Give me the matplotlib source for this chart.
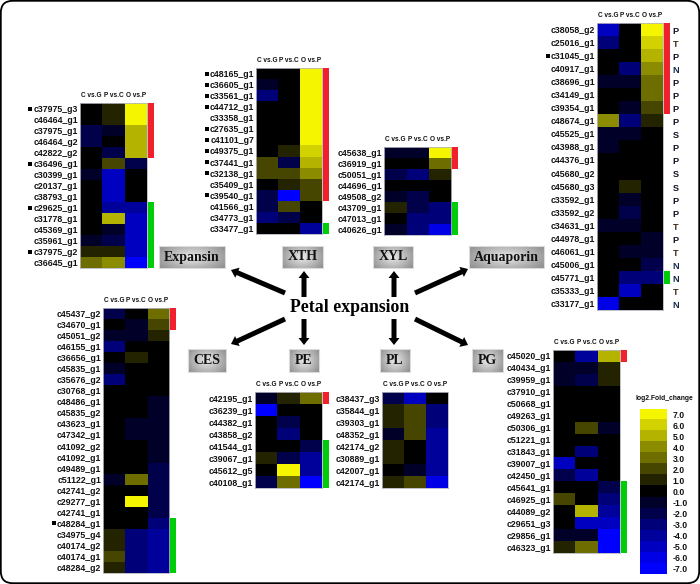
#!/usr/bin/env python3
# -*- coding: utf-8 -*-
import numpy as np
import matplotlib
matplotlib.use('Agg')
import matplotlib.pyplot as plt
from matplotlib.colors import ListedColormap
from matplotlib.patches import Rectangle, FancyBboxPatch

#%% Data
COLUMNS = ['C vs.G', 'P vs.C', 'O vs.P']

expansin_genes = ['c37975_g3', 'c46464_g1', 'c37975_g1', 'c46464_g2', 'c42822_g2', 'c36496_g1', 'c30399_g1',
                  'c20137_g1', 'c38793_g1', 'c29625_g1', 'c31778_g1', 'c45369_g1', 'c35961_g1', 'c37975_g2',
                  'c36645_g1']
expansin_vals = [[0, 1, 7], [0, 1, 7], [-2, -1, 5], [-2, 0, 5], [0, -2, 5], [0, 2, -2], [-1, -5, 0],
                 [0, -5, 0], [0, -5, 0], [0, -4, -4], [0, 5, -5], [0, -1, -5], [-1, -2, -5], [1, 1, -5],
                 [3, 4, -7]]

xth_genes = ['c48165_g1', 'c36605_g1', 'c33561_g1', 'c44712_g1', 'c33358_g1', 'c27635_g1', 'c41101_g7',
             'c49375_g1', 'c37441_g1', 'c32138_g1', 'c35409_g1', 'c39540_g1', 'c41566_g1', 'c34773_g1',
             'c33477_g1']
xth_vals = [[0, 0, 7], [-1, 0, 7], [-3, 0, 7], [0, 0, 7], [0, 0, 7], [0, 0, 7], [0, 0, 7],
            [0, 1, 6], [2, -2, 5], [2, 2, 4], [0, 1, 2], [-2, -7, 2], [-2, 2, 0], [-3, -2, 0],
            [0, 0, -4]]

xyl_genes = ['c45638_g1', 'c36919_g1', 'c50051_g1', 'c44696_g1', 'c49508_g2', 'c43709_g1', 'c47013_g1',
             'c40626_g1']
xyl_vals = [[-1, -1, 7], [0, 0, 3], [-2, -3, 1], [0, 0, 0], [-1, -2, 0], [1, -2, -3], [0, -3, -3],
            [-1, -3, -6]]

aqua_genes = ['c38058_g2', 'c25016_g1', 'c31045_g1', 'c40917_g1', 'c38696_g1', 'c34149_g1', 'c39354_g1',
              'c48674_g1', 'c45525_g1', 'c43988_g1', 'c44376_g1', 'c45680_g2', 'c45680_g3', 'c33592_g1',
              'c33592_g2', 'c34631_g1', 'c44978_g1', 'c46061_g1', 'c45006_g1', 'c45771_g1', 'c35333_g1',
              'c33177_g1']
aqua_vals = [[-5, 0, 7], [-3, 0, 6], [0, 0, 5], [0, -3, 4], [-1, -1, 3], [0, 0, 3], [0, -1, 2],
             [4, -3, 1], [-1, -1, 0], [-1, 0, 0], [0, 0, 0], [0, 0, 0], [0, 1, 0], [0, -1, 0],
             [0, -2, 0], [-1, -1, 0], [0, 0, -1], [0, -1, -1], [0, 0, -2], [0, -3, -3], [0, -5, 0],
             [-6, 0, 0]]
aqua_letters = ['P', 'T', 'P', 'N', 'P', 'P', 'P', 'P', 'S', 'P', 'P', 'S', 'S', 'P', 'P', 'T', 'P', 'T',
                'N', 'N', 'T', 'N']

ces_genes = ['c45437_g2', 'c34670_g1', 'c45051_g2', 'c46155_g1', 'c36656_g1', 'c45835_g1', 'c35676_g2',
             'c30768_g1', 'c48486_g1', 'c45835_g2', 'c43623_g1', 'c47342_g1', 'c41092_g2', 'c41092_g1',
             'c49489_g1', 'c51122_g1', 'c42741_g2', 'c29277_g1', 'c42741_g1', 'c48284_g1', 'c34975_g4',
             'c40174_g2', 'c40174_g1', 'c48284_g2']
ces_vals = [[-2, 0, 3], [0, -1, 2], [-1, -1, 1], [-3, 0, 0], [0, 1, 0], [-1, 0, 0], [-3, 0, 0],
            [0, 0, 0], [0, 0, -1], [0, 0, -1], [0, -1, -1], [0, -1, -1], [0, 0, -1], [0, 0, -1],
            [0, 0, -2], [-1, 3, -2], [0, 0, -2], [0, 7, -2], [0, 0, -2], [0, 0, -3], [1, -3, -4],
            [1, -3, -4], [2, -3, -4], [1, -3, -4]]

pe_genes = ['c42195_g1', 'c36239_g1', 'c44382_g1', 'c43858_g2', 'c41544_g1', 'c39067_g1', 'c45612_g5',
            'c40108_g1']
pe_vals = [[-1, 1, 3], [-7, 0, 0], [0, -2, 0], [0, -3, 0], [0, 0, -2], [1, -2, -4], [0, 7, -4],
           [-2, 3, -7]]

pl_genes = ['c38437_g3', 'c35844_g1', 'c39303_g1', 'c48352_g1', 'c42174_g2', 'c30889_g1', 'c42007_g1',
            'c42174_g1']
pl_vals = [[-2, -5, 0], [1, 2, -3], [1, 2, -3], [-1, 2, -4], [1, 0, -4], [1, 0, -4], [0, -1, -4],
           [1, 2, -6]]

pg_genes = ['c45020_g1', 'c40434_g1', 'c39959_g1', 'c37910_g1', 'c50668_g1', 'c49263_g1', 'c50306_g1',
            'c51221_g1', 'c31843_g1', 'c39007_g1', 'c42450_g1', 'c45641_g1', 'c46925_g1', 'c44089_g2',
            'c29651_g3', 'c29856_g1', 'c46323_g1']
pg_vals = [[0, -4, 5], [-1, -1, 1], [-1, -2, 1], [0, 0, 0], [0, 0, 0], [0, 0, 0], [0, 2, -1],
           [0, 0, 0], [0, -3, 0], [-5, 0, 0], [-2, -4, 0], [0, 0, -2], [2, 0, -3], [0, 5, -4],
           [0, -5, -5], [-1, -1, -7], [1, 3, -7]]

legend_levels = [7, 6, 5, 4, 3, 2, 1, 0, -1, -2, -3, -4, -5, -6, -7]

#%% Styles
W, H = 700, 584
LEVEL_COLORS = ['#0000ff', '#0000e6', '#0000c0', '#00009b', '#000078', '#00004b', '#000028', '#000000',
                '#232300', '#464600', '#6e6e00', '#8c8c00', '#b4b400', '#d2d200', '#f5f500']
CMAP = ListedColormap(LEVEL_COLORS)
RED = '#f0202d'
GREEN = '#00cd0a'
SANS = 'Liberation Sans'
SERIF = 'Liberation Serif'

fig = plt.figure(figsize=(W / 100, H / 100), dpi=100, facecolor='white')


def add_px_axes(x0, y0, x1, y1):
    return fig.add_axes([x0 / W, 1 - y1 / H, (x1 - x0) / W, (y1 - y0) / H])


def draw_heatmap(box, genes, vals, red=None, green=None, squares=()):
    ax = add_px_axes(*box)
    ax.imshow(np.array(vals), cmap=CMAP, vmin=-7.5, vmax=7.5, aspect='auto', interpolation='nearest')
    ax.set_xticks(range(3))
    ax.set_xticklabels(COLUMNS, family=SANS, weight='bold', fontsize=4.7)
    ax.xaxis.tick_top()
    ax.set_yticks(range(len(genes)))
    ax.set_yticklabels(genes, family=SANS, weight='bold', fontsize=6.3)
    ax.tick_params(length=0, pad=1.2, colors='#111111')
    ax.tick_params(axis='x', pad=3)
    for sp in ax.spines.values():
        sp.set_color('#b4b4c0')
        sp.set_linewidth(0.6)
    for span, col in ((red, RED), (green, GREEN)):
        if span is not None:
            ax.add_patch(Rectangle((2.55, span[0] - 0.5), 0.26, span[1] - span[0], color=col, lw=0,
                                   clip_on=False))
    for r in squares:
        ax.plot([-2.72], [r], 's', color='black', ms=3, mew=0, clip_on=False)
    ax.set_xlim(-0.5, 2.5)
    ax.set_ylim(len(genes) - 0.5, -0.5)
    return ax


#%% Heatmaps
draw_heatmap((80, 103, 147, 268), expansin_genes, expansin_vals, (0, 5), (9, 15), (0, 5, 9, 13))
draw_heatmap((256, 68, 322, 234), xth_genes, xth_vals, (0, 12), (14, 15), (0, 1, 2, 3, 5, 6, 7, 8, 9, 11))
draw_heatmap((384, 147, 451, 235), xyl_genes, xyl_vals, (0, 2), (5, 8))
ax_aq = draw_heatmap((597, 23, 663, 310), aqua_genes, aqua_vals, (0, 7), (19, 20), (2,))
draw_heatmap((103, 308, 169, 573), ces_genes, ces_vals, (0, 2), (19, 24), (19,))
draw_heatmap((255, 392, 322, 488), pe_genes, pe_vals, (0, 1), (4, 8))
draw_heatmap((382, 392, 448, 488), pl_genes, pl_vals)
draw_heatmap((553, 350, 620, 553), pg_genes, pg_vals, (0, 1), (11, 17))

for i, letter in enumerate(aqua_letters):
    col = {'T': '#3a2a10', 'N': '#14284a'}.get(letter, '#111122')
    ax_aq.text(3.07, i + 0.15, letter, family=SANS, weight='bold', fontsize=6.6, color=col,
               ha='center', va='center', clip_on=False)

#%% Legend
ax_leg = add_px_axes(640, 409, 667, 574)
ax_leg.imshow(np.array(legend_levels).reshape(-1, 1), cmap=CMAP, vmin=-7.5, vmax=7.5, aspect='auto',
              interpolation='nearest')
ax_leg.set_xticks([])
ax_leg.yaxis.tick_right()
ax_leg.set_yticks(range(len(legend_levels)))
ax_leg.set_yticklabels(['%.1f' % v for v in legend_levels], family=SANS, weight='bold', fontsize=6.2)
ax_leg.tick_params(length=0, pad=4, colors='#111111')
for sp in ax_leg.spines.values():
    sp.set_visible(False)

#%% Overlay: frame, arrows, labels
ov = fig.add_axes([0, 0, 1, 1], facecolor='none')
ov.set_xlim(0, W)
ov.set_ylim(H, 0)
ov.axis('off')

ov.add_patch(FancyBboxPatch((0.8, 0.8), W - 1.6, H - 1.6, boxstyle='round,pad=0,rounding_size=12',
                            fc='none', ec='black', lw=1.3))

ov.text(664, 399, 'log2.Fold_change', family=SANS, weight='bold', fontsize=4.9, ha='center', va='center',
        color='#111111')
ov.text(350, 308, 'Petal expansion', family=SERIF, weight='bold', fontsize=12.8, ha='center', va='center',
        color='black')

grad_y, grad_x = np.mgrid[-1:1:24j, -1:1:60j]
gradient = np.clip(np.sqrt(grad_x ** 2 + (grad_y * 0.75) ** 2), 0, 1.25)
gray_boxes = [('Expansin', 159, 225, 246, 268), ('XTH', 282, 323, 246, 268), ('XYL', 373, 413, 246, 268),
              ('Aquaporin', 469, 544, 246, 268), ('CES', 188, 226, 349, 372), ('PE', 289, 319, 349, 372),
              ('PL', 380, 410, 349, 372), ('PG', 472, 503, 349, 372)]
for name, x0, x1, y0, y1 in gray_boxes:
    ov.imshow(gradient, cmap='gray_r', vmin=-0.27, vmax=3.11, extent=(x0, x1, y1, y0), aspect='auto',
              interpolation='bilinear', zorder=1)
    ov.add_patch(Rectangle((x0, y0), x1 - x0, y1 - y0, fc='none', ec='#dcdcdc', lw=0.8, zorder=2))
    ov.text((x0 + x1) / 2, (y0 + y1) / 2, name, family=SERIF, weight='bold', fontsize=10, ha='center',
            va='center', color='#111111', zorder=3)
ov.set_xlim(0, W)
ov.set_ylim(H, 0)

arrows = [(285, 293, 231, 270), (304, 297, 304, 271), (394, 297, 394, 271), (415, 293, 468, 269),
          (285, 319, 231, 344), (304, 319, 304, 345), (394, 319, 394, 345), (415, 319, 468, 345)]
for x0, y0, x1, y1 in arrows:
    ov.arrow(x0, y0, x1 - x0, y1 - y0, width=5, head_width=11, head_length=7, length_includes_head=True,
             fc='black', ec='black', lw=0)

fig.savefig('out.png', dpi=100)
